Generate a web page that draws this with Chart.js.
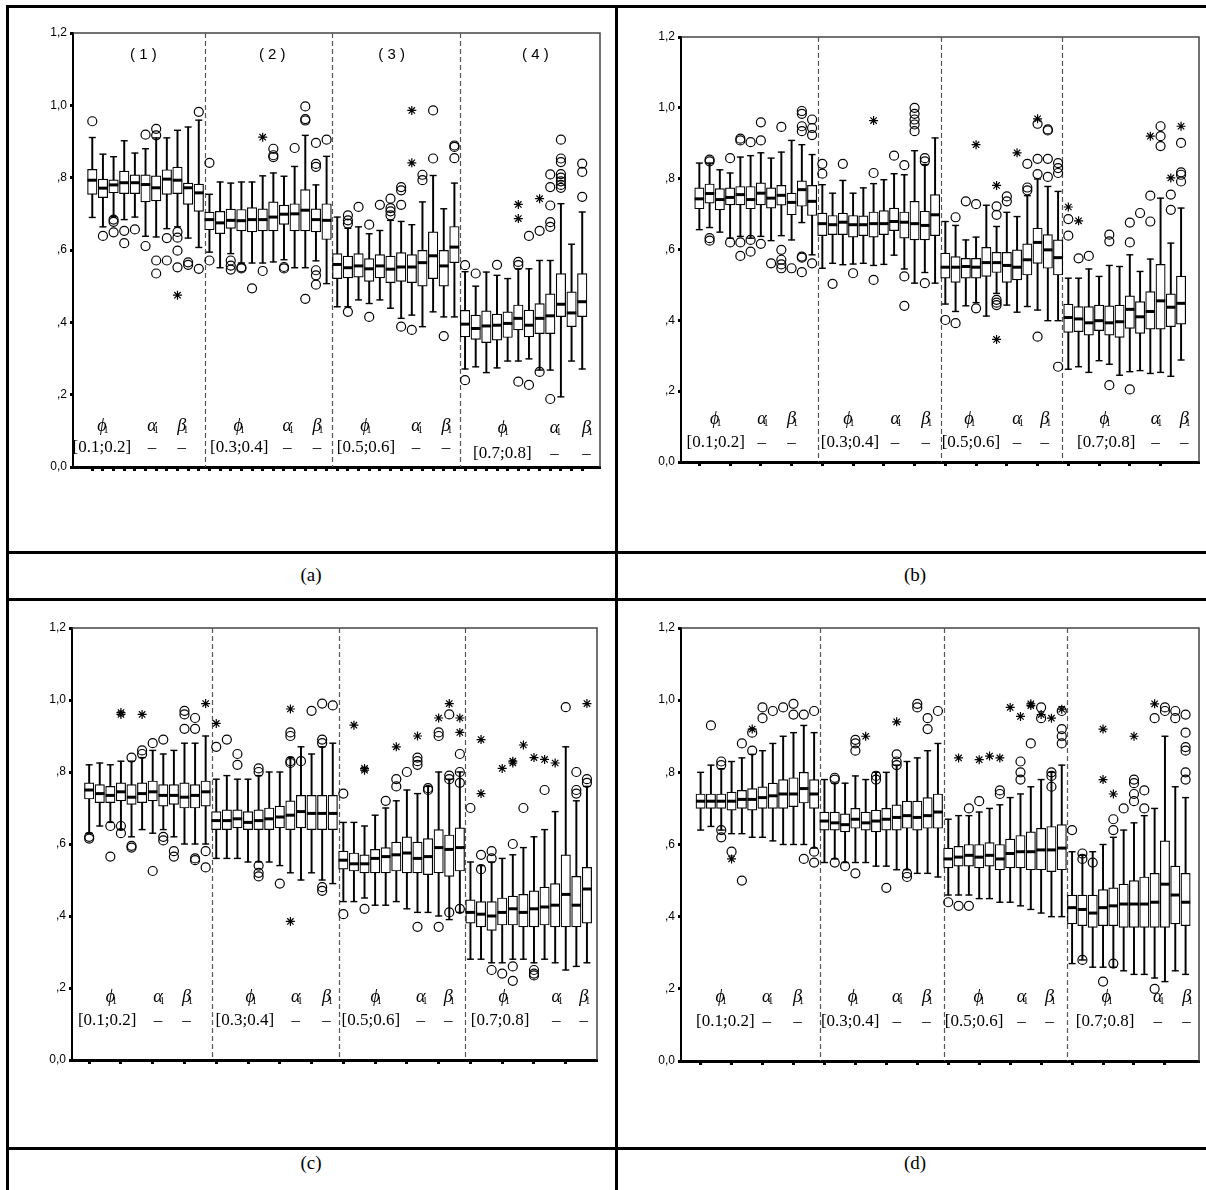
<!DOCTYPE html>
<html>
<head>
<meta charset="utf-8">
<title>Boxplots (a)-(d)</title>
<script src="https://cdn.jsdelivr.net/npm/chart.js@4.4.1/dist/chart.umd.min.js"></script>
<style>
  html, body { margin: 0; padding: 0; background: #fff; }
  body { position: relative; width: 1206px; height: 1190px; overflow: hidden; }
  .rule { position: absolute; background: #000; }
  .caption { position: absolute; font: 19px "Liberation Serif", "Times New Roman", serif; transform: translate(-50%, -50%); }
  canvas { position: absolute; }
</style>
</head>
<body>
<div class="rule" style="left:6px;top:5px;width:3px;height:1185px"></div>
<div class="rule" style="left:615px;top:5px;width:3px;height:1185px"></div>
<div class="rule" style="left:6px;top:5px;width:1200px;height:3px"></div>
<div class="rule" style="left:6px;top:551px;width:1200px;height:3px"></div>
<div class="rule" style="left:6px;top:598px;width:1200px;height:3px"></div>
<div class="rule" style="left:6px;top:1147px;width:1200px;height:3px"></div>
<div class="caption" style="left:311px;top:575px">(a)</div>
<div class="caption" style="left:915px;top:575px">(b)</div>
<div class="caption" style="left:311px;top:1163px">(c)</div>
<div class="caption" style="left:915px;top:1163px">(d)</div>
<canvas id="pa"></canvas>
<canvas id="pb"></canvas>
<canvas id="pc"></canvas>
<canvas id="pd"></canvas>
<script>
"use strict";

/* tick labels and group labels */
const yTickLabels = ['0,0', ',2', ',4', ',6', ',8', '1,0', '1,2'];
const paramMarks = ['\u03D5', '\u03B1', '\u03B2'];
const rangeLabels = ['[0.1;0.2]', '[0.3;0.4]', '[0.5;0.6]', '[0.7;0.8]'];
const caseLabels = ['( 1 )', '( 2 )', '( 3 )', '( 4 )'];

/* panel (a) : 47 boxes */
const aLow  = [0.690,0.664,0.692,0.684,0.691,0.638,0.636,0.659,0.664,0.633,0.607,
  0.594,0.551,0.590,0.564,0.564,0.564,0.567,0.573,0.551,0.551,0.570,0.507,
  0.443,0.443,0.462,0.452,0.462,0.439,0.411,0.420,0.388,0.429,0.415,0.415,
  0.271,0.277,0.261,0.274,0.293,0.293,0.299,0.268,0.268,0.194,0.293,0.271];
const aQ1   = [0.754,0.745,0.758,0.756,0.756,0.733,0.736,0.754,0.756,0.726,0.707,
  0.656,0.645,0.660,0.653,0.650,0.653,0.653,0.671,0.653,0.653,0.650,0.629,
  0.521,0.523,0.525,0.513,0.523,0.510,0.513,0.510,0.500,0.521,0.500,0.565,
  0.360,0.353,0.344,0.351,0.358,0.379,0.360,0.369,0.369,0.416,0.388,0.416];
const aMed  = [0.793,0.771,0.780,0.786,0.786,0.781,0.772,0.796,0.793,0.772,0.758,
  0.684,0.675,0.682,0.681,0.684,0.684,0.691,0.699,0.700,0.710,0.684,0.682,
  0.560,0.551,0.556,0.548,0.556,0.547,0.553,0.553,0.565,0.584,0.556,0.608,
  0.395,0.383,0.390,0.392,0.397,0.411,0.392,0.411,0.418,0.450,0.426,0.457];
const aQ3   = [0.823,0.796,0.794,0.818,0.808,0.808,0.805,0.822,0.829,0.785,0.782,
  0.705,0.707,0.713,0.712,0.717,0.714,0.733,0.724,0.728,0.767,0.714,0.728,
  0.590,0.583,0.590,0.576,0.587,0.583,0.593,0.587,0.599,0.650,0.599,0.665,
  0.433,0.420,0.432,0.423,0.429,0.448,0.434,0.452,0.479,0.535,0.484,0.535];
const aHigh = [0.911,0.865,0.858,0.902,0.868,0.880,0.910,0.910,0.931,0.940,0.959,
  0.754,0.788,0.785,0.788,0.788,0.805,0.813,0.804,0.831,0.917,0.780,0.859,
  0.691,0.660,0.664,0.645,0.654,0.682,0.679,0.670,0.733,0.806,0.714,0.785,
  0.540,0.500,0.539,0.530,0.521,0.548,0.548,0.571,0.571,0.728,0.616,0.705];
const aOut = [[0,0.956],[1,0.639],[2,0.684],[2,0.678],[2,0.649],[3,0.653],[3,0.619],[4,0.657],
  [5,0.919],[5,0.611],[6,0.935],[6,0.917],[6,0.571],[6,0.535],[7,0.633],[7,0.571],[8,0.650],
  [8,0.634],[8,0.598],[8,0.552],[9,0.566],[9,0.559],[10,0.982],[10,0.548],
  [11,0.841],[11,0.571],[13,0.571],[13,0.557],[13,0.546],[14,0.552],[14,0.549],[15,0.494],
  [16,0.542],[17,0.880],[17,0.862],[17,0.857],[18,0.553],[18,0.549],[19,0.882],[20,0.997],
  [20,0.962],[20,0.958],[20,0.465],[21,0.896],[21,0.838],[21,0.830],[21,0.544],[21,0.530],
  [21,0.504],[22,0.905],
  [24,0.696],[24,0.682],[24,0.673],[24,0.429],[25,0.719],[26,0.670],[26,0.415],[27,0.725],
  [28,0.742],[28,0.716],[28,0.707],[28,0.696],[29,0.774],[29,0.765],[29,0.725],[29,0.388],
  [30,0.379],[31,0.808],[31,0.793],[32,0.986],[32,0.853],[33,0.362],[34,0.889],[34,0.885],[34,0.854],
  [35,0.558],[35,0.240],[36,0.535],[38,0.559],[40,0.567],[40,0.558],[40,0.236],[41,0.639],
  [41,0.227],[42,0.653],[42,0.263],[43,0.664],[43,0.677],[43,0.723],[43,0.774],[43,0.809],
  [43,0.188],[44,0.905],[44,0.853],[44,0.843],[44,0.810],[44,0.800],[44,0.790],[44,0.780],
  [44,0.772],[46,0.839],[46,0.816],[46,0.747]];
const aExt = [[8,0.475],[16,0.912],[30,0.986],[30,0.841],[40,0.726],[40,0.687],[42,0.742]];

/* panel (b) : 48 boxes */
const bLow  = [0.656,0.662,0.649,0.632,0.637,0.632,0.637,0.625,0.639,0.627,0.676,0.585,
  0.547,0.561,0.557,0.559,0.561,0.555,0.558,0.584,0.545,0.505,0.535,0.505,
  0.446,0.425,0.441,0.450,0.412,0.476,0.443,0.423,0.439,0.429,0.399,0.399,
  0.262,0.269,0.253,0.286,0.276,0.245,0.255,0.258,0.250,0.253,0.242,0.288];
const bQ1   = [0.715,0.731,0.712,0.726,0.726,0.715,0.726,0.717,0.725,0.698,0.722,0.696,
  0.639,0.642,0.642,0.635,0.639,0.635,0.642,0.653,0.632,0.627,0.627,0.639,
  0.519,0.507,0.519,0.519,0.524,0.535,0.507,0.514,0.528,0.561,0.547,0.528,
  0.366,0.368,0.358,0.371,0.358,0.352,0.377,0.363,0.375,0.375,0.382,0.389];
const bMed  = [0.743,0.758,0.741,0.747,0.755,0.741,0.759,0.745,0.753,0.733,0.769,0.736,
  0.673,0.670,0.677,0.670,0.670,0.673,0.673,0.679,0.677,0.673,0.668,0.698,
  0.550,0.550,0.552,0.550,0.563,0.563,0.555,0.550,0.571,0.620,0.599,0.577,
  0.408,0.404,0.393,0.399,0.393,0.396,0.431,0.410,0.425,0.455,0.437,0.448];
const bQ3   = [0.774,0.785,0.772,0.774,0.778,0.778,0.788,0.774,0.781,0.759,0.794,0.781,
  0.703,0.696,0.703,0.696,0.695,0.706,0.710,0.717,0.706,0.736,0.708,0.755,
  0.590,0.580,0.575,0.575,0.606,0.592,0.592,0.599,0.616,0.660,0.642,0.627,
  0.446,0.439,0.439,0.443,0.441,0.443,0.469,0.453,0.481,0.558,0.475,0.525];
const bHigh = [0.844,0.844,0.825,0.816,0.861,0.865,0.873,0.858,0.875,0.908,0.896,0.868,
  0.783,0.759,0.795,0.759,0.774,0.786,0.797,0.814,0.811,0.879,0.840,0.915,
  0.679,0.668,0.627,0.635,0.725,0.665,0.705,0.693,0.752,0.799,0.778,0.764,
  0.519,0.519,0.545,0.524,0.555,0.552,0.585,0.538,0.573,0.745,0.618,0.717];
const bOut = [[1,0.854],[1,0.849],[1,0.632],[1,0.625],[3,0.858],[3,0.620],[4,0.913],[4,0.908],
  [4,0.620],[4,0.582],[5,0.903],[5,0.627],[5,0.594],[6,0.959],[6,0.908],[6,0.616],[7,0.561],
  [8,0.946],[8,0.599],[8,0.571],[8,0.558],[8,0.547],[9,0.547],[10,0.991],[10,0.983],[10,0.948],
  [10,0.934],[10,0.580],[10,0.577],[10,0.536],[11,0.967],[11,0.943],[11,0.923],[11,0.561],
  [12,0.842],[12,0.814],[13,0.503],[14,0.842],[15,0.533],[17,0.816],[17,0.514],[19,0.865],
  [20,0.838],[20,0.524],[20,0.441],[21,1.000],[21,0.983],[21,0.967],[21,0.953],[21,0.934],
  [22,0.858],[22,0.849],[22,0.505],
  [24,0.401],[25,0.691],[25,0.392],[26,0.736],[27,0.728],[27,0.434],[29,0.722],[29,0.698],
  [29,0.458],[29,0.450],[29,0.443],[30,0.750],[30,0.736],[32,0.842],[32,0.775],[32,0.767],
  [33,0.955],[33,0.856],[33,0.813],[33,0.354],[34,0.939],[34,0.936],[34,0.856],[34,0.805],
  [35,0.844],[35,0.830],[35,0.816],[35,0.269],
  [36,0.686],[36,0.639],[37,0.575],[38,0.582],[40,0.642],[40,0.623],[40,0.217],[42,0.676],
  [42,0.620],[42,0.205],[43,0.703],[44,0.752],[44,0.679],[45,0.948],[45,0.920],[45,0.892],
  [46,0.755],[46,0.712],[47,0.901],[47,0.818],[47,0.811],[47,0.792]];
const bExt = [[17,0.964],[27,0.896],[29,0.781],[29,0.346],[31,0.873],[33,0.969],[36,0.720],
  [37,0.681],[44,0.920],[46,0.802],[47,0.948]];

/* panel (c) : 48 boxes */
const cLow  = [0.63,0.65,0.66,0.64,0.62,0.64,0.63,0.64,0.62,0.60,0.60,0.60,
  0.56,0.56,0.56,0.55,0.55,0.55,0.54,0.52,0.50,0.52,0.50,0.49,
  0.44,0.44,0.45,0.43,0.43,0.44,0.42,0.41,0.41,0.40,0.39,0.41,
  0.28,0.28,0.27,0.27,0.28,0.28,0.27,0.28,0.27,0.25,0.26,0.27];
const cQ1   = [0.725,0.715,0.715,0.72,0.71,0.715,0.72,0.705,0.71,0.70,0.70,0.705,
  0.64,0.64,0.645,0.64,0.64,0.64,0.645,0.64,0.645,0.64,0.64,0.64,
  0.53,0.525,0.52,0.52,0.52,0.525,0.52,0.52,0.515,0.52,0.51,0.525,
  0.38,0.37,0.36,0.375,0.375,0.37,0.37,0.375,0.37,0.37,0.37,0.38];
const cMed  = [0.75,0.74,0.735,0.745,0.73,0.74,0.745,0.735,0.735,0.73,0.735,0.745,
  0.665,0.665,0.67,0.66,0.665,0.67,0.675,0.68,0.69,0.685,0.685,0.685,
  0.555,0.545,0.545,0.56,0.565,0.57,0.575,0.56,0.565,0.59,0.585,0.59,
  0.41,0.405,0.40,0.41,0.42,0.41,0.42,0.425,0.43,0.46,0.43,0.475];
const cQ3   = [0.77,0.765,0.76,0.77,0.765,0.77,0.775,0.765,0.765,0.77,0.765,0.775,
  0.69,0.695,0.695,0.69,0.695,0.70,0.705,0.72,0.735,0.735,0.735,0.735,
  0.58,0.575,0.57,0.585,0.59,0.605,0.62,0.605,0.615,0.64,0.625,0.645,
  0.445,0.44,0.44,0.45,0.455,0.46,0.47,0.48,0.49,0.57,0.51,0.535];
const cHigh = [0.82,0.825,0.82,0.83,0.83,0.84,0.86,0.85,0.86,0.88,0.88,0.90,
  0.78,0.79,0.78,0.78,0.79,0.80,0.80,0.84,0.87,0.85,0.87,0.88,
  0.66,0.66,0.65,0.68,0.70,0.72,0.75,0.74,0.76,0.80,0.78,0.80,
  0.55,0.54,0.55,0.56,0.57,0.59,0.62,0.64,0.69,0.87,0.72,0.76];
const cOut = [[0,0.615],[0,0.62],[2,0.65],[2,0.565],[3,0.63],[3,0.65],[4,0.595],[4,0.59],[4,0.84],
  [5,0.85],[5,0.86],[6,0.525],[6,0.88],[7,0.62],[7,0.61],[7,0.89],[8,0.58],[8,0.565],[9,0.97],
  [9,0.96],[9,0.92],[10,0.56],[10,0.555],[10,0.92],[10,0.95],[11,0.535],[11,0.58],
  [12,0.87],[13,0.89],[14,0.85],[14,0.82],[16,0.54],[16,0.52],[16,0.51],[16,0.81],[16,0.80],
  [18,0.49],[19,0.91],[19,0.90],[19,0.83],[19,0.825],[20,0.83],[21,0.97],[22,0.48],[22,0.47],
  [22,0.99],[22,0.89],[22,0.88],[23,0.985],
  [24,0.405],[24,0.74],[26,0.42],[28,0.72],[29,0.78],[29,0.76],[30,0.80],[31,0.82],[31,0.84],
  [31,0.83],[31,0.37],[32,0.75],[32,0.755],[33,0.90],[33,0.91],[33,0.37],[34,0.79],[34,0.78],
  [34,0.96],[34,0.41],[35,0.80],[35,0.77],[35,0.42],[35,0.85],
  [36,0.70],[37,0.53],[37,0.57],[38,0.58],[38,0.56],[38,0.25],[39,0.24],[40,0.22],[40,0.60],
  [40,0.26],[41,0.70],[42,0.25],[42,0.24],[42,0.235],[43,0.75],[45,0.98],[46,0.80],[46,0.75],
  [46,0.74],[47,0.78],[47,0.77]];
const cExt = [[3,0.965],[3,0.96],[5,0.96],[11,0.99],[12,0.935],[19,0.975],[19,0.385],[25,0.93],
  [26,0.81],[26,0.805],[29,0.87],[31,0.90],[33,0.95],[34,0.99],[35,0.95],[35,0.91],
  [37,0.89],[37,0.74],[39,0.81],[40,0.83],[40,0.825],[41,0.875],[42,0.84],[43,0.835],[44,0.825],[47,0.99]];

/* panel (d) : 48 boxes */
const dLow  = [0.64,0.65,0.64,0.63,0.63,0.62,0.62,0.61,0.60,0.60,0.60,0.59,
  0.55,0.56,0.55,0.55,0.55,0.54,0.54,0.53,0.53,0.52,0.52,0.51,
  0.46,0.46,0.46,0.45,0.45,0.44,0.44,0.43,0.42,0.41,0.40,0.40,
  0.27,0.28,0.26,0.26,0.26,0.25,0.24,0.24,0.23,0.22,0.25,0.24];
const dQ1   = [0.70,0.70,0.70,0.695,0.70,0.695,0.70,0.70,0.70,0.705,0.715,0.70,
  0.64,0.64,0.635,0.645,0.64,0.635,0.64,0.64,0.645,0.64,0.645,0.645,
  0.535,0.54,0.54,0.535,0.54,0.53,0.535,0.535,0.53,0.53,0.525,0.53,
  0.38,0.375,0.37,0.375,0.375,0.37,0.37,0.37,0.37,0.37,0.38,0.375];
const dMed  = [0.72,0.72,0.72,0.72,0.725,0.725,0.73,0.735,0.74,0.74,0.755,0.74,
  0.665,0.66,0.655,0.67,0.66,0.665,0.67,0.675,0.68,0.675,0.68,0.69,
  0.56,0.565,0.57,0.565,0.57,0.56,0.575,0.58,0.58,0.585,0.585,0.59,
  0.425,0.42,0.41,0.425,0.43,0.435,0.435,0.435,0.44,0.49,0.46,0.44];
const dQ3   = [0.74,0.74,0.74,0.745,0.75,0.755,0.76,0.77,0.78,0.785,0.80,0.78,
  0.69,0.69,0.685,0.70,0.69,0.695,0.70,0.71,0.72,0.72,0.73,0.74,
  0.59,0.595,0.60,0.60,0.605,0.60,0.615,0.625,0.635,0.645,0.65,0.655,
  0.46,0.46,0.46,0.475,0.48,0.49,0.50,0.51,0.52,0.61,0.54,0.52];
const dHigh = [0.80,0.82,0.81,0.83,0.84,0.85,0.86,0.88,0.90,0.91,0.93,0.91,
  0.78,0.77,0.77,0.79,0.78,0.80,0.80,0.82,0.83,0.84,0.86,0.88,
  0.67,0.68,0.68,0.69,0.70,0.71,0.73,0.74,0.76,0.78,0.80,0.82,
  0.58,0.57,0.58,0.60,0.62,0.64,0.66,0.68,0.70,0.90,0.76,0.73];
const dOut = [[1,0.93],[2,0.83],[2,0.82],[2,0.64],[2,0.62],[3,0.58],[4,0.50],[4,0.88],[5,0.86],
  [5,0.91],[6,0.95],[6,0.98],[7,0.97],[8,0.98],[9,0.99],[9,0.96],[10,0.96],[10,0.56],[11,0.97],
  [11,0.55],[11,0.58],
  [13,0.78],[13,0.785],[15,0.89],[15,0.86],[15,0.88],[17,0.78],[17,0.79],[19,0.85],[19,0.82],
  [19,0.83],[20,0.52],[20,0.51],[21,0.99],[21,0.98],[22,0.95],[22,0.92],[23,0.97],[13,0.55],
  [15,0.52],[14,0.54],[18,0.48],
  [24,0.44],[25,0.43],[26,0.43],[26,0.70],[27,0.72],[29,0.75],[29,0.74],[31,0.78],[31,0.80],
  [31,0.83],[32,0.88],[33,0.98],[33,0.95],[34,0.79],[34,0.80],[34,0.76],[35,0.97],[35,0.92],
  [35,0.90],[35,0.88],
  [36,0.64],[37,0.575],[37,0.56],[37,0.28],[38,0.55],[39,0.22],[40,0.67],[40,0.64],[40,0.27],
  [41,0.70],[42,0.72],[42,0.74],[42,0.78],[42,0.77],[43,0.75],[43,0.70],[44,0.20],[44,0.95],
  [45,0.98],[45,0.97],[46,0.97],[46,0.95],[47,0.91],[47,0.87],[47,0.96],[47,0.86],[47,0.80],[47,0.78]];
const dExt = [[3,0.56],[5,0.92],[16,0.90],[19,0.94],[25,0.84],[27,0.835],[28,0.845],[29,0.84],
  [30,0.98],[31,0.955],[32,0.99],[32,0.985],[33,0.96],[34,0.95],[35,0.975],
  [39,0.92],[39,0.78],[40,0.74],[42,0.90],[44,0.99]];

/* page layout of the four panels (pixel boxes of the plot areas) */
const panels = [
  { canvas: 'pa', low: aLow, q1: aQ1, med: aMed, q3: aQ3, high: aHigh, out: aOut, ext: aExt,
    area: { left: 73, top: 33, right: 600, bottom: 467 }, xMin: -1.81, xMax: 47.67, tickStep: 1, barW: 9.5,
    dividers: [10.55, 22.5, 34.5],
    marks: [[0.9, 5.6, 8.4, 0.9], [13.7, 18.3, 21.1, 13.8], [25.6, 30.4, 33.2, 25.7], [38.5, 43.4, 46.4, 38.5]],
    markY: [[0.113, 0.053], [0.113, 0.053], [0.113, 0.053], [0.108, 0.036]],
    cases: [4.8, 16.9, 28.1, 41.6], caseY: 1.139 },
  { canvas: 'pb', low: bLow, q1: bQ1, med: bMed, q3: bQ3, high: bHigh, out: bOut, ext: bExt,
    area: { left: 681, top: 37, right: 1199, bottom: 462 }, xMin: -1.79, xMax: 48.75, tickStep: 3, barW: 9.3,
    dividers: [11.6, 23.6, 35.4],
    marks: [[1.5, 6.1, 9.0, 1.6], [14.5, 19.1, 22.1, 14.7], [26.3, 31.0, 33.7, 26.5], [39.5, 44.5, 47.3, 39.7]],
    markY: [[0.12, 0.055], [0.12, 0.055], [0.12, 0.055], [0.12, 0.055]] },
  { canvas: 'pc', low: cLow, q1: cQ1, med: cMed, q3: cQ3, high: cHigh, out: cOut, ext: cExt,
    area: { left: 72, top: 628, right: 597, bottom: 1060 }, xMin: -1.62, xMax: 47.95, tickStep: 3, barW: 9.4,
    dividers: [11.6, 23.6, 35.5],
    marks: [[2.0, 6.5, 9.2, 1.7], [15.2, 19.5, 22.4, 14.7], [27.0, 31.3, 33.9, 26.6], [39.1, 44.1, 46.7, 38.8]],
    markY: [[0.175, 0.111], [0.175, 0.111], [0.175, 0.111], [0.175, 0.111]] },
  { canvas: 'pd', low: dLow, q1: dQ1, med: dMed, q3: dQ3, high: dHigh, out: dOut, ext: dExt,
    area: { left: 681, top: 628, right: 1199, bottom: 1061 }, xMin: -1.9, xMax: 48.3, tickStep: 3, barW: 9.3,
    dividers: [11.6, 23.6, 35.5],
    marks: [[1.9, 6.4, 9.4, 2.4], [14.7, 19.0, 21.9, 14.5], [26.9, 31.1, 33.8, 26.5], [39.3, 44.3, 47.1, 39.2]],
    markY: [[0.177, 0.108], [0.177, 0.108], [0.177, 0.108], [0.177, 0.108]] }
];

const PAD_LEFT = 50, PAD_TOP = 12, PAD_RIGHT = 10, PAD_BOTTOM = 18;

Chart.defaults.font.family = '"Liberation Sans", Arial, sans-serif';
Chart.defaults.color = '#000';

function drawParam(ctx, ch, x, y) {
  ctx.font = 'italic 18px "Liberation Serif", "Times New Roman", serif';
  ctx.textAlign = 'center';
  ctx.fillText(ch, x, y);
  var w = ctx.measureText(ch).width;
  ctx.font = '10px "Liberation Serif", "Times New Roman", serif';
  ctx.textAlign = 'left';
  ctx.fillText('1', x + w / 2 - 3, y + 4);
}

function makeDecor(p) {
  return {
    id: 'decor',
    beforeDatasetsDraw(chart) {
      const ctx = chart.ctx, a = chart.chartArea, x = chart.scales.x;
      ctx.save();
      // top and right frame of the plot
      ctx.strokeStyle = '#444';
      ctx.lineWidth = 1.5;
      ctx.beginPath();
      ctx.moveTo(a.left, a.top);
      ctx.lineTo(a.right, a.top);
      ctx.lineTo(a.right, a.bottom);
      ctx.stroke();
      // dashed separators between the four cases
      ctx.setLineDash([5, 3]);
      ctx.lineWidth = 1.2;
      ctx.strokeStyle = '#555';
      p.dividers.forEach(function (v) {
        const px = Math.round(x.getPixelForValue(v)) + 0.5;
        ctx.beginPath();
        ctx.moveTo(px, a.top);
        ctx.lineTo(px, a.bottom);
        ctx.stroke();
      });
      ctx.restore();
    },
    afterDatasetsDraw(chart) {
      const ctx = chart.ctx, x = chart.scales.x, y = chart.scales.y;
      ctx.save();
      ctx.fillStyle = '#000';
      ctx.textBaseline = 'middle';
      p.marks.forEach(function (m, g) {
        const yS = y.getPixelForValue(p.markY[g][0]);
        const yR = y.getPixelForValue(p.markY[g][1]);
        for (let k = 0; k < 3; k++) drawParam(ctx, paramMarks[k], x.getPixelForValue(m[k]), yS);
        ctx.font = '17px "Liberation Serif", "Times New Roman", serif';
        ctx.textAlign = 'center';
        ctx.fillText(rangeLabels[g], x.getPixelForValue(m[3]), yR);
        ctx.fillText('\u2013', x.getPixelForValue(m[1]), yR);
        ctx.fillText('\u2013', x.getPixelForValue(m[2]), yR);
      });
      if (p.cases) {
        ctx.font = '15px "Liberation Sans", Arial, sans-serif';
        ctx.textAlign = 'center';
        p.cases.forEach(function (v, g) {
          ctx.fillText(caseLabels[g], x.getPixelForValue(v), y.getPixelForValue(p.caseY));
        });
      }
      ctx.restore();
    }
  };
}

panels.forEach(function (p) {
  const el = document.getElementById(p.canvas);
  const w = p.area.right - p.area.left + PAD_LEFT + PAD_RIGHT;
  const h = p.area.bottom - p.area.top + PAD_TOP + PAD_BOTTOM;
  el.width = w; el.height = h;
  el.style.left = (p.area.left - PAD_LEFT) + 'px';
  el.style.top = (p.area.top - PAD_TOP) + 'px';
  el.style.width = w + 'px'; el.style.height = h + 'px';

  const idx = p.med.map(function (_, i) { return i; });
  const xTicks = idx.filter(function (i) { return i % p.tickStep === 0; });

  new Chart(el, {
    type: 'bar',
    data: {
      datasets: [
        { type: 'bar', label: 'whisker', order: 5, grouped: false, barThickness: 1.3,
          backgroundColor: '#000', borderWidth: 0,
          data: idx.map(function (i) { return { x: i, y: [p.low[i], p.high[i]] }; }) },
        { type: 'scatter', label: 'caps', order: 4, pointStyle: 'line', radius: 3.5,
          borderColor: '#000', borderWidth: 1.4,
          data: idx.map(function (i) { return { x: i, y: p.low[i] }; })
            .concat(idx.map(function (i) { return { x: i, y: p.high[i] }; })) },
        { type: 'bar', label: 'box', order: 3, grouped: false, barThickness: p.barW,
          backgroundColor: '#fff', borderColor: '#000', borderWidth: 1.2, borderSkipped: false,
          data: idx.map(function (i) { return { x: i, y: [p.q1[i], p.q3[i]] }; }) },
        { type: 'scatter', label: 'median', order: 2, pointStyle: 'line', radius: p.barW / 2,
          borderColor: '#000', borderWidth: 3,
          data: idx.map(function (i) { return { x: i, y: p.med[i] }; }) },
        { type: 'scatter', label: 'outliers', order: 1, pointStyle: 'circle', radius: 4.5,
          backgroundColor: 'rgba(0,0,0,0)', borderColor: '#000', borderWidth: 1.2,
          data: p.out.map(function (o) { return { x: o[0], y: o[1] }; }) },
        { type: 'scatter', label: 'extremes', order: 0, pointStyle: 'star', radius: 4.5,
          borderColor: '#000', borderWidth: 1.2,
          data: p.ext.map(function (o) { return { x: o[0], y: o[1] }; }) }
      ]
    },
    options: {
      responsive: false,
      animation: false,
      events: [],
      layout: { padding: { left: 0, top: PAD_TOP, right: PAD_RIGHT, bottom: 0 } },
      plugins: { legend: { display: false }, tooltip: { enabled: false } },
      scales: {
        x: {
          type: 'linear', min: p.xMin, max: p.xMax, offset: false,
          grid: { display: true, offset: false, drawOnChartArea: false, drawTicks: true,
            tickLength: 4, tickWidth: 3, color: '#000' },
          border: { display: true, color: '#000', width: 3 },
          ticks: { autoSkip: false, callback: function () { return ''; } },
          afterBuildTicks: function (s) { s.ticks = xTicks.map(function (v) { return { value: v }; }); },
          afterFit: function (s) { s.height = PAD_BOTTOM; }
        },
        y: {
          min: 0, max: 1.2,
          grid: { display: true, drawOnChartArea: false, drawTicks: true,
            tickLength: 3, tickWidth: 3, color: '#000' },
          border: { display: true, color: '#000', width: 2 },
          ticks: { stepSize: 0.2, padding: 3, font: { size: 12 },
            callback: function (v, i) { return yTickLabels[i]; } },
          afterFit: function (s) { s.width = PAD_LEFT; }
        }
      }
    },
    plugins: [makeDecor(p)]
  });
});
</script>
</body>
</html>
